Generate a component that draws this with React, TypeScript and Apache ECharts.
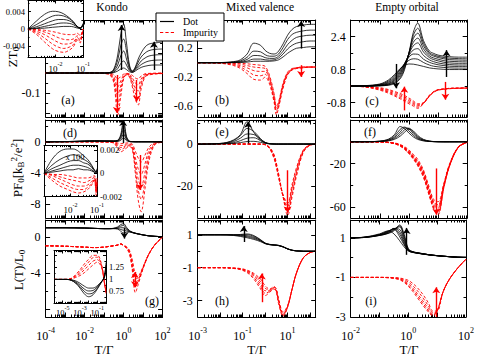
import React, { useEffect, useRef } from "react";
import * as echarts from "echarts";

const FONT = "'Liberation Serif', 'DejaVu Serif', serif";

// ---------- T/Γ sample points ----------
const kondoT = [1e-4, 1e-3, 0.01, 0.0316, 0.1, 0.2, 0.316, 0.5, 0.708, 1, 1.41, 2, 2.82, 3.98, 5.62, 7.94, 12.6, 20, 39.8, 100];
const mixedT = [0.001, 0.00316, 0.01, 0.02, 0.0398, 0.0794, 0.158, 0.316, 0.631, 1, 1.585, 2.512, 3.162, 3.981, 6.31, 10, 15.85, 25.12, 50.12, 100, 177.8];
const emptyT = [0.01, 0.0316, 0.1, 0.2, 0.316, 0.501, 0.708, 1, 1.413, 1.995, 3.162, 5.012, 7.079, 10, 15.85, 25.12, 50.12, 100];
const insetLowT = [0.001, 0.002, 0.004, 0.0079, 0.0126, 0.02, 0.0316, 0.0447, 0.0631, 0.0794, 0.0933, 0.1];
const insetGT = [1e-6, 1e-5, 3.16e-5, 1e-4, 3.16e-4, 1e-3, 3.16e-3, 0.01, 0.0316, 0.1, 0.316, 0.631, 1];

// ---------- tick labels ----------
const kondoTicks = [1e-4, 1e-2, 1, 100];
const mixedTicks = [1e-3, 1e-1, 10];
const emptyTicks = [1e-2, 1, 100];
const insetLowTicks = [1e-2, 1e-1];
const insetGTicks = [1e-5, 1e-3, 1e-1];

// ---------- (a) ZT, Kondo ----------
const aDot = [
  [0, 0, 0, 0, 0, 0.003, 0.02, 0.09, 0.19, 0.245, 0.15, 0.04, 0.01, 0.03, 0.07, 0.1, 0.13, 0.145, 0.15, 0.155],
  [0, 0, 0, 0, 0, 0.002, 0.015, 0.065, 0.135, 0.17, 0.11, 0.03, 0.008, 0.025, 0.055, 0.08, 0.1, 0.112, 0.118, 0.12],
  [0, 0, 0, 0, 0, 0.001, 0.01, 0.04, 0.085, 0.11, 0.07, 0.02, 0.006, 0.02, 0.04, 0.06, 0.075, 0.085, 0.09, 0.092],
  [0, 0, 0, 0, 0, 0, 0.005, 0.022, 0.047, 0.06, 0.04, 0.012, 0.004, 0.014, 0.03, 0.042, 0.053, 0.06, 0.064, 0.065],
  [0, 0, 0, 0, 0, 0, 0.002, 0.01, 0.02, 0.025, 0.017, 0.006, 0.003, 0.01, 0.02, 0.028, 0.034, 0.038, 0.04, 0.04],
];
const aImp = [
  [0, 0, 0, -0.001, -0.003, -0.01, -0.05, -0.21, -0.12, -0.03, -0.01, -0.02, -0.07, -0.13, -0.16, -0.08, -0.02, -0.01, -0.005, -0.003],
  [0, 0, 0, -0.001, -0.002, -0.008, -0.04, -0.16, -0.09, -0.025, -0.008, -0.015, -0.055, -0.1, -0.125, -0.06, -0.015, -0.008, -0.004, -0.002],
  [0, 0, 0, 0, -0.002, -0.006, -0.03, -0.11, -0.065, -0.02, -0.006, -0.01, -0.04, -0.075, -0.09, -0.045, -0.012, -0.006, -0.003, -0.002],
  [0, 0, 0, 0, -0.001, -0.004, -0.018, -0.07, -0.04, -0.012, -0.004, -0.007, -0.025, -0.05, -0.06, -0.03, -0.008, -0.004, -0.002, -0.001],
  [0, 0, 0, 0, 0, -0.002, -0.008, -0.03, -0.018, -0.006, -0.002, -0.004, -0.012, -0.025, -0.03, -0.015, -0.004, -0.002, -0.001, 0],
];
const aInsetDot = [
  [0, 0.0018, 0.0034, 0.0041, 0.004, 0.0035, 0.0026, 0.0017, 0.0005, 0.0003, 0.0008, 0.0013],
  [0, 0.001, 0.0021, 0.003, 0.0032, 0.003, 0.0024, 0.0016, 0.0005, 0.0003, 0.0007, 0.0011],
  [0, 0.0005, 0.0012, 0.0019, 0.0022, 0.0022, 0.0019, 0.0014, 0.0005, 0.0002, 0.0006, 0.001],
  [0, 0.0002, 0.0006, 0.001, 0.0013, 0.0014, 0.0013, 0.001, 0.0004, 0.0002, 0.0005, 0.0009],
  [0, 0.0001, 0.0002, 0.0004, 0.0005, 0.0006, 0.0006, 0.0005, 0.0002, 0.0001, 0.0004, 0.0008],
];
const aInsetImp = [
  [0, -0.0012, -0.003, -0.0046, -0.0052, -0.0054, -0.0049, -0.0041, -0.0026, -0.0032, -0.0012, 0],
  [0, -0.0008, -0.0021, -0.0035, -0.0042, -0.0045, -0.0042, -0.0036, -0.0023, -0.0029, -0.0011, 0],
  [0, -0.0005, -0.0013, -0.0024, -0.0031, -0.0035, -0.0034, -0.003, -0.002, -0.0026, -0.001, 0],
  [0, -0.0002, -0.0007, -0.0014, -0.002, -0.0024, -0.0025, -0.0023, -0.0016, -0.0022, -0.0008, 0],
  [0, -0.0001, -0.0003, -0.0006, -0.0009, -0.0012, -0.0013, -0.0013, -0.001, -0.0016, -0.0006, 0],
];

// ---------- (b) ZT, mixed valence ----------
const bDot = [
  [0, 0, 0.002, 0.006, 0.015, 0.04, 0.12, 0.27, 0.24, 0.17, 0.13, 0.12, 0.13, 0.16, 0.26, 0.38, 0.46, 0.5, 0.52, 0.53, 0.53],
  [0, 0, 0.001, 0.004, 0.01, 0.025, 0.075, 0.16, 0.15, 0.11, 0.09, 0.09, 0.1, 0.12, 0.21, 0.32, 0.39, 0.42, 0.44, 0.45, 0.45],
  [0, 0, 0.001, 0.002, 0.006, 0.015, 0.045, 0.1, 0.095, 0.07, 0.06, 0.06, 0.07, 0.09, 0.16, 0.25, 0.31, 0.35, 0.37, 0.38, 0.38],
  [0, 0, 0, 0.001, 0.003, 0.008, 0.022, 0.05, 0.05, 0.04, 0.035, 0.04, 0.05, 0.065, 0.12, 0.19, 0.24, 0.27, 0.29, 0.3, 0.3],
  [0, 0, 0, 0, 0.001, 0.003, 0.008, 0.02, 0.02, 0.02, 0.02, 0.025, 0.03, 0.04, 0.08, 0.13, 0.17, 0.2, 0.21, 0.22, 0.22],
];
const bImp = [
  [0, -0.002, -0.008, -0.02, -0.04, -0.08, -0.15, -0.23, -0.24, -0.2, -0.3, -0.55, -0.72, -0.62, -0.35, -0.17, -0.1, -0.08, -0.07, -0.06, -0.06],
  [0, -0.001, -0.006, -0.015, -0.03, -0.06, -0.11, -0.17, -0.18, -0.16, -0.27, -0.52, -0.69, -0.6, -0.33, -0.16, -0.1, -0.08, -0.07, -0.06, -0.06],
  [0, -0.001, -0.004, -0.01, -0.02, -0.04, -0.07, -0.11, -0.12, -0.12, -0.24, -0.49, -0.66, -0.58, -0.31, -0.15, -0.09, -0.07, -0.06, -0.06, -0.06],
  [0, 0, -0.002, -0.005, -0.01, -0.02, -0.04, -0.06, -0.07, -0.08, -0.21, -0.46, -0.63, -0.56, -0.3, -0.14, -0.09, -0.07, -0.06, -0.06, -0.06],
  [0, 0, -0.001, -0.002, -0.004, -0.008, -0.015, -0.025, -0.035, -0.05, -0.18, -0.43, -0.6, -0.54, -0.28, -0.13, -0.08, -0.07, -0.06, -0.06, -0.06],
];

// ---------- (c) ZT, empty orbital ----------
const cDot = [
  [0, 0, 0.01, 0.04, 0.12, 0.35, 0.8, 1.6, 2.6, 3.05, 2.2, 1.7, 1.58, 1.5, 1.45, 1.42, 1.4, 1.4],
  [0, 0, 0.015, 0.055, 0.16, 0.42, 0.88, 1.6, 2.45, 2.8, 2.08, 1.62, 1.51, 1.44, 1.38, 1.35, 1.33, 1.32],
  [0, 0, 0.02, 0.07, 0.2, 0.5, 0.95, 1.6, 2.3, 2.56, 1.95, 1.55, 1.45, 1.38, 1.32, 1.28, 1.26, 1.25],
  [0, 0.005, 0.03, 0.1, 0.25, 0.58, 1.0, 1.58, 2.12, 2.32, 1.8, 1.46, 1.36, 1.3, 1.23, 1.2, 1.18, 1.17],
  [0, 0.01, 0.04, 0.12, 0.3, 0.65, 1.05, 1.55, 1.95, 2.09, 1.65, 1.38, 1.28, 1.22, 1.15, 1.12, 1.1, 1.1],
  [0, 0.01, 0.05, 0.16, 0.36, 0.72, 1.08, 1.48, 1.75, 1.81, 1.48, 1.27, 1.18, 1.12, 1.07, 1.04, 1.02, 1.02],
  [0, 0.01, 0.06, 0.2, 0.42, 0.8, 1.1, 1.4, 1.55, 1.54, 1.3, 1.15, 1.08, 1.03, 0.99, 0.96, 0.95, 0.95],
  [0, 0.015, 0.08, 0.25, 0.48, 0.82, 1.05, 1.25, 1.32, 1.3, 1.14, 1.02, 0.96, 0.93, 0.9, 0.88, 0.87, 0.87],
  [0, 0.02, 0.1, 0.3, 0.55, 0.85, 1.0, 1.07, 1.06, 1.02, 0.95, 0.88, 0.85, 0.83, 0.81, 0.8, 0.8, 0.8],
];
const cImp = [
  [0, -0.05, -0.2, -0.35, -0.48, -0.62, -0.74, -0.86, -0.97, -1.08, -0.85, -0.5, -0.3, -0.2, -0.16, -0.13, -0.11, -0.1],
  [0, -0.04, -0.17, -0.3, -0.43, -0.56, -0.67, -0.79, -0.9, -1.02, -0.84, -0.49, -0.29, -0.19, -0.15, -0.12, -0.11, -0.1],
  [0, -0.03, -0.14, -0.26, -0.37, -0.49, -0.6, -0.72, -0.84, -0.96, -0.83, -0.48, -0.28, -0.19, -0.15, -0.12, -0.1, -0.1],
  [0, -0.03, -0.11, -0.21, -0.31, -0.42, -0.53, -0.65, -0.78, -0.91, -0.82, -0.46, -0.27, -0.18, -0.14, -0.11, -0.1, -0.09],
  [0, -0.02, -0.08, -0.17, -0.26, -0.36, -0.46, -0.58, -0.72, -0.86, -0.8, -0.45, -0.27, -0.18, -0.14, -0.11, -0.1, -0.09],
];

// ---------- (d) PF, Kondo ----------
const dDot = [
  [0, 0.02, 0.12, 0.16, 0.15, 0.14, 0.13, 0.2, 0.9, 2.8, 0.7, 0.08, 0.02, 0, 0, 0, 0, 0, 0, 0],
  [0, 0.02, 0.1, 0.13, 0.12, 0.11, 0.11, 0.17, 0.72, 2.2, 0.56, 0.07, 0.02, 0, 0, 0, 0, 0, 0, 0],
  [0, 0.01, 0.07, 0.1, 0.09, 0.08, 0.08, 0.13, 0.52, 1.6, 0.42, 0.05, 0.01, 0, 0, 0, 0, 0, 0, 0],
  [0, 0.01, 0.05, 0.06, 0.06, 0.05, 0.05, 0.09, 0.34, 1.0, 0.27, 0.04, 0.01, 0, 0, 0, 0, 0, 0, 0],
  [0, 0, 0.02, 0.03, 0.03, 0.03, 0.03, 0.05, 0.18, 0.5, 0.14, 0.02, 0, 0, 0, 0, 0, 0, 0, 0],
];
const dImp = [
  [0, 0, 0, 0, -0.02, -0.05, -0.2, -0.8, -1.3, -1.1, -0.8, -0.6, -1.0, -4.0, -7.5, -9.0, -6.0, -2.5, -0.4, -0.05],
  [0, 0, 0, 0, -0.02, -0.04, -0.15, -0.6, -1.0, -0.85, -0.6, -0.5, -0.9, -3.4, -6.2, -7.4, -5.0, -2.0, -0.3, -0.04],
  [0, 0, 0, 0, -0.01, -0.03, -0.1, -0.45, -0.75, -0.65, -0.45, -0.4, -0.7, -2.7, -4.8, -5.8, -3.9, -1.6, -0.25, -0.03],
  [0, 0, 0, 0, -0.01, -0.02, -0.07, -0.3, -0.5, -0.45, -0.3, -0.3, -0.5, -2.0, -3.5, -4.2, -2.8, -1.1, -0.2, -0.02],
  [0, 0, 0, 0, 0, -0.01, -0.04, -0.15, -0.25, -0.22, -0.15, -0.15, -0.3, -1.2, -2.1, -2.6, -1.7, -0.7, -0.1, -0.01],
];
const dInsetDot = [
  [0, 0.0012, 0.0019, 0.0021, 0.0021, 0.0019, 0.0015, 0.0012, 0.0007, 0.0003, 0.0001, 0.0004],
  [0, 0.0007, 0.0012, 0.0015, 0.0016, 0.0015, 0.0012, 0.001, 0.0006, 0.0003, 0.0001, 0.0003],
  [0, 0.0004, 0.0007, 0.001, 0.0011, 0.0011, 0.0009, 0.0008, 0.0005, 0.0002, 0.0001, 0.0003],
  [0, 0.0002, 0.0004, 0.0006, 0.0007, 0.0007, 0.0006, 0.0005, 0.0003, 0.0001, 0, 0.0002],
  [0, 0.0001, 0.0002, 0.0003, 0.0003, 0.0004, 0.0003, 0.0003, 0.0002, 0.0001, 0, 0.0001],
];
const dInsetImp = [
  [0, -0.0006, -0.0011, -0.0014, -0.0016, -0.0017, -0.0016, -0.0014, -0.001, -0.0006, -0.0019, -0.0008],
  [0, -0.0004, -0.0008, -0.0011, -0.0013, -0.0014, -0.0014, -0.0012, -0.0009, -0.0005, -0.0017, -0.0007],
  [0, -0.0002, -0.0005, -0.0008, -0.001, -0.0011, -0.0011, -0.001, -0.0007, -0.0004, -0.0015, -0.0006],
  [0, -0.0001, -0.0003, -0.0005, -0.0006, -0.0007, -0.0008, -0.0007, -0.0005, -0.0003, -0.0013, -0.0005],
  [0, -0.0001, -0.0001, -0.0002, -0.0003, -0.0004, -0.0004, -0.0004, -0.0003, -0.0002, -0.001, -0.0004],
];

// ---------- (e) PF, mixed valence ----------
const eDot = [
  [0, 0.05, 0.3, 0.8, 2, 4.5, 10.6, 5.5, 1.8, 0.6, 0.15, 0.03, 0, 0, 0, 0, 0, 0, 0, 0, 0],
  [0, 0.05, 0.3, 0.7, 1.7, 4, 7.4, 6, 2.5, 0.8, 0.2, 0.04, 0, 0, 0, 0, 0, 0, 0, 0, 0],
  [0, 0.03, 0.2, 0.5, 1.2, 2.8, 4.8, 4.5, 2.2, 0.8, 0.2, 0.04, 0, 0, 0, 0, 0, 0, 0, 0, 0],
  [0, 0.02, 0.1, 0.3, 0.7, 1.6, 2.8, 3, 1.6, 0.6, 0.15, 0.03, 0, 0, 0, 0, 0, 0, 0, 0, 0],
  [0, 0.01, 0.05, 0.12, 0.3, 0.7, 1.2, 1.3, 0.8, 0.3, 0.08, 0.02, 0, 0, 0, 0, 0, 0, 0, 0, 0],
];
const eImp = [
  [0, 0, 0, 0, 0, 0, 0, 0, -0.05, -0.2, -1.5, -5, -9, -14, -25, -33.8, -25, -15, -4, -0.5, -0.1],
  [0, 0, 0, 0, 0, 0, 0, 0, -0.05, -0.2, -1.6, -5.5, -9.5, -14.5, -25, -32.5, -23.5, -14, -3.6, -0.5, -0.1],
  [0, 0, 0, 0, 0, 0, 0, 0, -0.05, -0.25, -1.8, -6, -10, -15, -25, -31, -22, -13, -3.3, -0.4, -0.1],
  [0, 0, 0, 0, 0, 0, 0, 0, -0.05, -0.3, -2, -6.5, -10.5, -15.5, -24.5, -29.5, -20.5, -12, -3, -0.4, -0.1],
  [0, 0, 0, 0, 0, 0, 0, 0, -0.06, -0.35, -2.2, -7, -11, -16, -24, -28, -19, -11, -2.8, -0.4, -0.1],
];

// ---------- (f) PF, empty orbital ----------
const fDot = [
  [0, 0.05, 0.6, 2.5, 6.5, 14, 12, 8, 4.5, 2.2, 0.8, 0.25, 0.1, 0.03, 0, 0, 0, 0],
  [0, 0.04, 0.5, 2, 5, 11.5, 13.5, 10, 6, 3, 1.1, 0.35, 0.13, 0.04, 0, 0, 0, 0],
  [0, 0.03, 0.4, 1.6, 4, 9, 12.8, 12, 7.5, 3.8, 1.4, 0.45, 0.16, 0.05, 0, 0, 0, 0],
  [0, 0.02, 0.3, 1.2, 3, 7, 11, 12.5, 9, 4.8, 1.8, 0.55, 0.2, 0.06, 0, 0, 0, 0],
  [0, 0.02, 0.2, 0.9, 2.2, 5.2, 8.8, 11.5, 10, 5.8, 2.2, 0.7, 0.25, 0.08, 0, 0, 0, 0],
];
const fImp = [
  [0, 0, -0.2, -0.8, -1.8, -4, -7, -11, -16, -22, -33, -50, -62, -67, -42, -22, -5, -0.5],
  [0, 0, -0.18, -0.75, -1.7, -3.8, -6.7, -10.6, -15.5, -21.2, -32, -49, -61, -65.5, -41.5, -21.8, -5, -0.5],
  [0, 0, -0.15, -0.7, -1.6, -3.6, -6.4, -10.2, -15, -20.5, -31, -48, -60, -64, -41, -21.5, -5, -0.5],
  [0, 0, -0.15, -0.65, -1.5, -3.4, -6.1, -9.8, -14.5, -19.8, -30, -47, -58.5, -62.5, -40.5, -21.2, -4.9, -0.5],
  [0, 0, -0.15, -0.6, -1.4, -3.2, -5.8, -9.4, -14, -19, -29, -46, -57, -61, -40, -21, -4.8, -0.5],
  [0, 0, -0.12, -0.55, -1.3, -3.0, -5.5, -9.0, -13.4, -18.2, -28.2, -45, -56, -59.5, -39.5, -20.8, -4.7, -0.5],
  [0, 0, -0.1, -0.5, -1.2, -2.9, -5.2, -8.5, -12.8, -17.5, -27.5, -44, -55, -58, -39, -20.5, -4.6, -0.5],
  [0, 0, -0.1, -0.4, -1, -2.5, -4.5, -7.5, -11.5, -16, -26, -42, -53, -55, -38, -20, -4.5, -0.5],
];

// ---------- (g) L/L0, Kondo ----------
const gDot = [
  [1, 1, 0.97, 0.93, 0.9, 0.9, 0.95, 1.1, 1.35, 1.45, 1.05, 0.7, 0.5, 0.4, 0.32, 0.25, 0.17, 0.1, 0.05, 0.01],
  [1, 1, 0.97, 0.93, 0.9, 0.9, 0.93, 1.02, 1.18, 1.25, 0.92, 0.65, 0.5, 0.4, 0.32, 0.25, 0.17, 0.1, 0.05, 0.01],
  [1, 1, 0.97, 0.93, 0.9, 0.9, 0.92, 0.95, 1.0, 1.0, 0.8, 0.6, 0.48, 0.39, 0.31, 0.25, 0.17, 0.1, 0.05, 0.01],
  [1, 1, 0.97, 0.93, 0.9, 0.9, 0.91, 0.9, 0.8, 0.72, 0.65, 0.57, 0.47, 0.38, 0.31, 0.24, 0.16, 0.1, 0.05, 0.01],
  [1, 1, 0.97, 0.93, 0.9, 0.9, 0.9, 0.85, 0.62, 0.42, 0.5, 0.52, 0.45, 0.37, 0.3, 0.24, 0.16, 0.1, 0.05, 0.01],
];
const gImp = [
  [-1, -1.05, -1.15, -1.2, -1.15, -1.05, -1.0, -0.92, -0.8, -0.95, -1.3, -1.9, -3.8, -6.2, -5.3, -4.2, -2.9, -1.9, -0.9, -0.02],
  [-1, -1.05, -1.15, -1.2, -1.15, -1.05, -1.0, -0.92, -0.8, -0.95, -1.25, -1.8, -3.5, -5.6, -5.0, -4.1, -2.9, -1.9, -0.9, -0.02],
  [-1, -1.05, -1.15, -1.2, -1.15, -1.05, -1.0, -0.92, -0.8, -0.95, -1.2, -1.7, -3.2, -5.1, -4.8, -4.0, -2.9, -1.9, -0.9, -0.02],
  [-1, -1.05, -1.15, -1.2, -1.15, -1.05, -1.0, -0.92, -0.8, -0.95, -1.15, -1.6, -2.9, -4.6, -4.6, -3.9, -2.85, -1.9, -0.9, -0.02],
  [-1, -1.05, -1.15, -1.2, -1.15, -1.05, -1.0, -0.92, -0.8, -0.95, -1.1, -1.5, -2.6, -4.1, -4.3, -3.8, -2.8, -1.9, -0.9, -0.02],
];
const gInsetDot = [
  [1, 1, 1, 0.98, 0.92, 0.82, 0.7, 0.64, 0.68, 0.8, 0.95, 1.05, 1.35],
  [1, 1, 1, 0.98, 0.93, 0.85, 0.75, 0.7, 0.72, 0.82, 0.95, 1.05, 1.3],
  [1, 1, 1, 0.99, 0.95, 0.88, 0.8, 0.76, 0.77, 0.85, 0.96, 1.04, 1.25],
  [1, 1, 1, 0.99, 0.97, 0.92, 0.86, 0.82, 0.82, 0.87, 0.96, 1.03, 1.2],
];
const gInsetImp = [
  [1, 1, 1, 1.02, 1.1, 1.2, 1.32, 1.42, 1.5, 1.5, 1.3, 0.95, 0.7],
  [1, 1, 1, 1.02, 1.08, 1.16, 1.26, 1.36, 1.45, 1.46, 1.28, 0.95, 0.72],
  [1, 1, 1, 1.01, 1.06, 1.12, 1.2, 1.29, 1.38, 1.41, 1.26, 0.95, 0.74],
  [1, 1, 1, 1.01, 1.04, 1.08, 1.14, 1.22, 1.3, 1.36, 1.24, 0.95, 0.76],
];

// ---------- (h) L/L0, mixed valence ----------
const hDot = [
  [1, 1, 1, 1, 1, 1.02, 1.05, 0.95, 0.7, 0.5, 0.42, 0.39, 0.38, 0.36, 0.28, 0.15, 0.06, 0.02, 0, 0, 0],
  [1, 1, 1, 1, 1, 1, 1, 0.9, 0.68, 0.49, 0.41, 0.38, 0.37, 0.35, 0.27, 0.14, 0.06, 0.02, 0, 0, 0],
  [1, 1, 1, 1, 0.99, 0.97, 0.94, 0.84, 0.65, 0.48, 0.41, 0.38, 0.37, 0.35, 0.27, 0.14, 0.06, 0.02, 0, 0, 0],
  [1, 1, 1, 1, 0.98, 0.94, 0.88, 0.78, 0.62, 0.47, 0.4, 0.37, 0.36, 0.34, 0.26, 0.14, 0.06, 0.02, 0, 0, 0],
  [1, 1, 1, 0.99, 0.96, 0.9, 0.82, 0.72, 0.58, 0.46, 0.4, 0.37, 0.36, 0.34, 0.26, 0.14, 0.06, 0.02, 0, 0, 0],
];
const hImp = [
  [-1, -1, -1, -1.02, -1.05, -1.12, -1.3, -1.7, -2.3, -2.7, -2.5, -2.3, -2.5, -3.2, -3.95, -3.4, -2.3, -1.3, -0.4, -0.08, 0],
  [-1, -1, -1, -1.01, -1.04, -1.1, -1.26, -1.6, -2.15, -2.55, -2.45, -2.25, -2.45, -3.1, -3.9, -3.4, -2.3, -1.3, -0.4, -0.08, 0],
  [-1, -1, -1, -1.01, -1.03, -1.08, -1.22, -1.5, -2, -2.4, -2.4, -2.2, -2.4, -3.05, -3.85, -3.35, -2.3, -1.3, -0.4, -0.08, 0],
  [-1, -1, -1, -1, -1.03, -1.06, -1.18, -1.42, -1.85, -2.25, -2.35, -2.18, -2.35, -2.95, -3.8, -3.35, -2.3, -1.3, -0.4, -0.08, 0],
  [-1, -1, -1, -1, -1.02, -1.05, -1.15, -1.35, -1.7, -2.1, -2.3, -2.15, -2.3, -2.9, -3.7, -3.3, -2.3, -1.3, -0.4, -0.08, 0],
];

// ---------- (i) L/L0, empty orbital ----------
const iDot = [
  [1, 1.02, 1.12, 1.22, 1.35, 1.65, 1.2, 0.45, 0.3, 0.25, 0.2, 0.15, 0.12, 0.1, 0.07, 0.05, 0.02, 0.01],
  [1, 1.02, 1.12, 1.23, 1.4, 1.6, 1.1, 0.42, 0.3, 0.25, 0.2, 0.15, 0.12, 0.1, 0.07, 0.05, 0.02, 0.01],
  [1, 1.02, 1.13, 1.25, 1.45, 1.55, 1.0, 0.4, 0.29, 0.24, 0.19, 0.15, 0.12, 0.1, 0.07, 0.05, 0.02, 0.01],
  [1, 1.03, 1.14, 1.28, 1.47, 1.42, 0.9, 0.38, 0.28, 0.24, 0.19, 0.15, 0.12, 0.1, 0.07, 0.05, 0.02, 0.01],
  [1, 1.03, 1.15, 1.3, 1.48, 1.3, 0.8, 0.37, 0.28, 0.24, 0.19, 0.15, 0.12, 0.1, 0.07, 0.05, 0.02, 0.01],
  [1, 1.03, 1.16, 1.33, 1.46, 1.18, 0.72, 0.36, 0.27, 0.23, 0.18, 0.14, 0.12, 0.1, 0.07, 0.05, 0.02, 0.01],
  [1, 1.03, 1.17, 1.35, 1.42, 1.05, 0.65, 0.35, 0.27, 0.23, 0.18, 0.14, 0.12, 0.1, 0.07, 0.05, 0.02, 0.01],
  [1, 1.04, 1.2, 1.35, 1.2, 0.85, 0.55, 0.33, 0.26, 0.22, 0.18, 0.14, 0.11, 0.09, 0.07, 0.05, 0.02, 0.01],
];
const iImp = [
  [-1, -1, -1, -1.02, -1.05, -1.12, -1.25, -1.45, -1.7, -2.0, -2.4, -2.75, -2.95, -2.7, -1.75, -1.15, -0.55, -0.08],
  [-1, -1, -1, -1.01, -1.04, -1.1, -1.21, -1.39, -1.62, -1.9, -2.3, -2.68, -2.9, -2.7, -1.75, -1.15, -0.55, -0.08],
  [-1, -1, -1, -1.01, -1.03, -1.08, -1.17, -1.32, -1.53, -1.8, -2.18, -2.58, -2.85, -2.7, -1.75, -1.15, -0.55, -0.08],
  [-1, -1, -1, -1, -1.02, -1.05, -1.12, -1.23, -1.42, -1.65, -2.02, -2.45, -2.78, -2.7, -1.75, -1.15, -0.55, -0.08],
  [-1, -1, -1, -1, -1.01, -1.03, -1.08, -1.15, -1.3, -1.5, -1.85, -2.3, -2.7, -2.7, -1.75, -1.15, -0.55, -0.08],
];

// ---------- arrows: [T, from, to, colour] ----------
type Arrow = [number, number, number, string];
const aArrows: Arrow[] = [[0.79, 0.015, 0.24, "k"], [36, 0.015, 0.156, "k"], [0.45, -0.01, -0.2, "r"], [4.7, -0.035, -0.143, "r"]];
const aInsetArrows: Arrow[] = [[0.0043, 0, 0.0044, "k"], [0.029, -0.0006, -0.0052, "r"]];
const bArrows: Arrow[] = [[40, 0.196, 0.577, "k"], [40, -0.034, -0.196, "r"]];
const cArrows: Arrow[] = [[19.5, 0.44, 1.74, "k"], [0.36, 1.07, -0.11, "k"], [0.69, -1.18, -0.03, "r"], [17.8, 0.2, -0.66, "r"]];
const dArrows: Arrow[] = [[0.95, -0.17, 2.8, "k"], [6.9, -1.7, -6.2, "r"]];
const dInsetArrows: Arrow[] = [[0.0019, 0.0001, 0.002, "k"], [0.0195, -0.00015, -0.0017, "r"]];
const eArrows: Arrow[] = [[0.174, 0.3, 10.6, "k"], [10, -12.4, -32.4, "r"]];
const fArrows: Arrow[] = [[8.7, -24.5, -67, "r"]];
const gArrows: Arrow[] = [[1.1, 1.0, -0.2, "k"], [3.8, -3.9, -5.6, "r2"]];
const gInsetArrows: Arrow[] = [[0.0022, 0.65, 0.99, "k"], [0.0049, 1.36, 1.09, "r"]];
const hArrows: Arrow[] = [[0.112, 0.56, 1.53, "k"], [0.71, -3.1, -1.35, "r"]];
const iArrows: Arrow[] = [[0.87, 0.14, 1.5, "k"], [9.3, -3.0, -1.5, "r"]];

// ---------- helpers (tick positions) ----------
function decades(lo: number, hi: number) {
  const out: number[] = [];
  for (let e = Math.ceil(Math.log10(lo) - 1e-9); e <= Math.floor(Math.log10(hi) + 1e-9); e++) out.push(Math.pow(10, e));
  return out;
}
function minors(lo: number, hi: number) {
  const out: number[] = [];
  for (let e = Math.floor(Math.log10(lo)) - 1; e <= Math.ceil(Math.log10(hi)); e++)
    for (let m = 2; m <= 9; m++) {
      const v = m * Math.pow(10, e);
      if (v > lo * 1.0001 && v < hi * 0.9999) out.push(v);
    }
  return out;
}

interface Spec {
  box: number[];
  inset?: boolean;
  T: number[];
  xr: number[];
  xLabels?: number[];
  xFont?: number;
  xMargin?: number;
  yr: number[];
  yMajor: number[];
  yMinor: number[];
  yLabels: number[];
  ySide?: string;
  yFont?: number;
  dot: number[][];
  imp: number[][];
  arrows: Arrow[];
}

function buildOption() {
  const specs: Spec[] = [
    { box: [45.6, 20, 117, 97], T: kondoT, xr: [1e-4, 100], yr: [-0.22, 0.265], yMajor: [-0.2, -0.1, 0, 0.1, 0.2], yMinor: [-0.15, -0.05, 0.05, 0.15, 0.25], yLabels: [-0.1], dot: aDot, imp: aImp, arrows: aArrows },
    { box: [197.7, 20, 118, 97], T: mixedT, xr: [1e-3, 177.8], yr: [-0.75, 0.59], yMajor: [-0.6, -0.2, 0.2], yMinor: [-0.4, 0, 0.4], yLabels: [-0.6, -0.2, 0.2], dot: bDot, imp: bImp, arrows: bArrows },
    { box: [350.7, 20, 116.5, 97], T: emptyT, xr: [1e-2, 100], yr: [-1.5, 3.2], yMajor: [-0.8, 0.8, 2.4], yMinor: [0, 1.6], yLabels: [-0.8, 0.8, 2.4], dot: cDot, imp: cImp, arrows: cArrows },
    { box: [45.6, 120, 117, 98], T: kondoT, xr: [1e-4, 100], yr: [-9.8, 2.8], yMajor: [-8, -4, 0], yMinor: [-6, -2, 2], yLabels: [-8, -4, 0], dot: dDot, imp: dImp, arrows: dArrows },
    { box: [197.7, 120, 118, 98], T: mixedT, xr: [1e-3, 177.8], yr: [-35, 11.4], yMajor: [-20, 0], yMinor: [-30, -10, 10], yLabels: [-20, 0], dot: eDot, imp: eImp, arrows: eArrows },
    { box: [350.7, 120, 116.5, 98], T: emptyT, xr: [1e-2, 100], yr: [-70, 20], yMajor: [-60, -20], yMinor: [-40, 0], yLabels: [-60, -20], dot: fDot, imp: fImp, arrows: fArrows },
    { box: [45.6, 220, 117, 97], T: kondoT, xr: [1e-4, 100], xLabels: kondoTicks, yr: [-8.9, 1.86], yMajor: [-8, -4, 0], yMinor: [-6, -2], yLabels: [-4, 0], dot: gDot, imp: gImp, arrows: gArrows },
    { box: [197.7, 220, 118, 97], T: mixedT, xr: [1e-3, 177.8], xLabels: mixedTicks, yr: [-4, 1.9], yMajor: [-3, -1, 1], yMinor: [-2, 0], yLabels: [-3, -1, 1], dot: hDot, imp: hImp, arrows: hArrows },
    { box: [350.7, 220, 116.5, 97], T: emptyT, xr: [1e-2, 100], xLabels: emptyTicks, yr: [-3, 1.9], yMajor: [-3, -1, 1], yMinor: [-2, 0], yLabels: [-3, -1, 1], dot: iDot, imp: iImp, arrows: iArrows },
    { box: [27, 0.5, 56, 57], inset: true, T: insetLowT, xr: [1e-3, 0.1], xLabels: insetLowTicks, xFont: 9, xMargin: 3, yr: [-0.0066, 0.0066], yMajor: [-0.004, 0, 0.004], yMinor: [-0.006, -0.002, 0.002, 0.006], yLabels: [-0.004, 0, 0.004], ySide: "left", yFont: 8.5, dot: aInsetDot, imp: aInsetImp, arrows: aInsetArrows },
    { box: [44, 145.5, 53, 51], inset: true, T: insetLowT, xr: [1e-3, 0.1], xLabels: insetLowTicks, xFont: 9, xMargin: 5, yr: [-0.002, 0.0024], yMajor: [-0.002, 0, 0.002], yMinor: [-0.001, 0.001], yLabels: [-0.002, 0, 0.002], ySide: "right", yFont: 8.5, dot: dInsetDot, imp: dInsetImp, arrows: dInsetArrows },
    { box: [54, 250.5, 52, 53], inset: true, T: insetGT, xr: [1e-6, 1], xLabels: insetGTicks, xFont: 8.5, xMargin: 1, yr: [0.5, 1.6], yMajor: [0.75, 1, 1.25, 1.5], yMinor: [0.625, 0.875, 1.125, 1.375], yLabels: [0.75, 1, 1.25], ySide: "right", yFont: 8.5, dot: gInsetDot, imp: gInsetImp, arrows: gInsetArrows },
  ];

  const grid: any[] = [];
  const xAxis: any[] = [];
  const yAxis: any[] = [];
  const series: any[] = [];
  const ls = { color: "#000", width: 1 };

  specs.forEach((s, g) => {
    const inset = !!s.inset;
    grid.push({
      left: s.box[0], top: s.box[1], width: s.box[2], height: s.box[3],
      show: inset, backgroundColor: "#fff", borderWidth: 0, z: inset ? 10 : 0,
    });
    const zA = inset ? 11 : 1;
    const tl = inset ? 3 : 4.5;
    const tm = inset ? 1.6 : 2.5;
    const xMaj = decades(s.xr[0], s.xr[1]);
    const xMin = minors(s.xr[0], s.xr[1]);
    const xf = s.xFont || 12;
    const sf = Math.round(xf * 0.68);
    const xCommon = { type: "log", logBase: 10, gridIndex: g, min: s.xr[0], max: s.xr[1], z: zA, splitLine: { show: false }, silent: true };
    const xLab = s.xLabels
      ? {
          show: true,
          customValues: s.xLabels,
          margin: s.xMargin ?? 9,
          formatter: (v: number) => `{b|10}{s|${Math.round(Math.log10(v))}}`,
          rich: {
            b: { fontFamily: FONT, fontSize: xf, color: "#000", lineHeight: xf + 4, verticalAlign: "bottom" },
            s: { fontFamily: FONT, fontSize: sf, color: "#000", lineHeight: xf + 4, verticalAlign: "top" },
          },
        }
      : { show: false };
    xAxis.push({ ...xCommon, position: "bottom", axisLine: { show: true, onZero: false, lineStyle: ls }, axisTick: { show: true, inside: true, length: tl, customValues: xMaj, lineStyle: ls }, axisLabel: xLab });
    xAxis.push({ ...xCommon, position: "top", axisLine: { show: true, onZero: false, lineStyle: ls }, axisTick: { show: true, inside: true, length: tl, customValues: xMaj, lineStyle: ls }, axisLabel: { show: false } });
    xAxis.push({ ...xCommon, position: "bottom", axisLine: { show: false, onZero: false }, axisTick: { show: true, inside: true, length: tm, customValues: xMin, lineStyle: ls }, axisLabel: { show: false } });
    xAxis.push({ ...xCommon, position: "top", axisLine: { show: false, onZero: false }, axisTick: { show: true, inside: true, length: tm, customValues: xMin, lineStyle: ls }, axisLabel: { show: false } });

    const side = s.ySide || "left";
    const other = side === "left" ? "right" : "left";
    const yCommon = { type: "value", gridIndex: g, min: s.yr[0], max: s.yr[1], z: zA, splitLine: { show: false }, silent: true };
    const yf = s.yFont || 12;
    yAxis.push({ ...yCommon, position: side, axisLine: { show: true, onZero: false, lineStyle: ls }, axisTick: { show: true, inside: true, length: tl, customValues: s.yMajor, lineStyle: ls },
      axisLabel: { show: true, customValues: s.yLabels, margin: inset ? 3 : 5, fontFamily: FONT, fontSize: yf, color: "#000", formatter: (v: number) => String(v) } });
    yAxis.push({ ...yCommon, position: other, axisLine: { show: true, onZero: false, lineStyle: ls }, axisTick: { show: true, inside: true, length: tl, customValues: s.yMajor, lineStyle: ls }, axisLabel: { show: false } });
    yAxis.push({ ...yCommon, position: side, axisLine: { show: false, onZero: false }, axisTick: { show: true, inside: true, length: tm, customValues: s.yMinor, lineStyle: ls }, axisLabel: { show: false } });
    yAxis.push({ ...yCommon, position: other, axisLine: { show: false, onZero: false }, axisTick: { show: true, inside: true, length: tm, customValues: s.yMinor, lineStyle: ls }, axisLabel: { show: false } });

    const xi = 4 * g;
    const yi = 4 * g;
    const zS = inset ? 12 : 2;
    s.imp.forEach((ys) => {
      series.push({
        type: "line", name: "Impurity", xAxisIndex: xi, yAxisIndex: yi, z: zS, silent: true,
        data: s.T.map((t, i) => [t, ys[i]]), symbol: "none", showSymbol: false, smooth: 0.35,
        lineStyle: { color: "#ff0000", width: 0.9, type: [3, 2] }, itemStyle: { color: "#ff0000" },
      });
    });
    s.dot.forEach((ys) => {
      series.push({
        type: "line", name: "Dot", xAxisIndex: xi, yAxisIndex: yi, z: zS, silent: true,
        data: s.T.map((t, i) => [t, ys[i]]), symbol: "none", showSymbol: false, smooth: 0.35,
        lineStyle: { color: "#000", width: 0.8, type: "solid" }, itemStyle: { color: "#000" },
      });
    });
    series.push({
      type: "line", name: "arrows", xAxisIndex: xi, yAxisIndex: yi, z: zS + 1, silent: true, data: [],
      markLine: {
        silent: true, animation: false, label: { show: false }, emphasis: { disabled: true },
        data: s.arrows.map((a) => {
          const col = a[3] === "k" ? "#000" : "#ff0000";
          const both = a[3] === "r2";
          return [
            { coord: [a[0], a[1]], symbol: both ? "arrow" : "none", symbolSize: inset ? 5 : 6, lineStyle: { color: col, width: inset ? 1.1 : 1.4, type: "solid" } },
            { coord: [a[0], a[2]], symbol: "arrow", symbolSize: inset ? 5 : 6 },
          ];
        }),
      },
    });
  });

  const txt = (x: number, y: number, text: string, size = 12, rot = 0, rich?: any) => ({
    type: "text", x, y, rotation: rot, z: 60,
    style: { text, fill: "#000", font: `${size}px ${FONT}`, fontSize: size, fontFamily: FONT, align: "center", verticalAlign: "middle", textAlign: "center", textVerticalAlign: "middle", rich },
  });
  const rich13 = {
    m: { fontFamily: FONT, fontSize: 13, lineHeight: 16, verticalAlign: "middle", fill: "#000" },
    d: { fontFamily: FONT, fontSize: 9, lineHeight: 16, verticalAlign: "bottom", fill: "#000" },
    u: { fontFamily: FONT, fontSize: 9, lineHeight: 16, verticalAlign: "top", fill: "#000" },
  };
  const graphic = [
    txt(112, 7, "Kondo", 11.5),
    txt(260, 7, "Mixed valence", 11.5),
    txt(407, 7, "Empty orbital", 11.5),
    txt(68, 100, "(a)"), txt(222, 100, "(b)"), txt(372, 101, "(c)"),
    txt(70, 133, "(d)"), txt(222, 132, "(e)"), txt(370, 132, "(f)"),
    txt(152, 301, "(g)"), txt(222, 301, "(h)"), txt(371, 301, "(i)"),
    txt(75, 157, "x 100", 8.5),
    txt(104, 349, "T/Γ", 13), txt(256.7, 349, "T/Γ", 13), txt(409, 349, "T/Γ", 13),
    txt(12, 57, "{m|ZT}{d|0}", 13, Math.PI / 2, rich13),
    txt(17, 168, "{m|PF}{d|0}{m|[k}{d|B}{u|2}{m|/e}{u|2}{m|]}", 13, Math.PI / 2, rich13),
    txt(18, 270, "{m|L(T)/L}{d|0}", 13, Math.PI / 2, rich13),
  ];

  return {
    animation: false,
    backgroundColor: "#fff",
    textStyle: { fontFamily: FONT },
    legend: {
      data: [
        { name: "Dot", icon: "path://M0,0h14v1h-14z" },
        { name: "Impurity", icon: "path://M0,0h3v1h-3z M5,0h3v1h-3z M10,0h3v1h-3z" },
      ],
      left: 156, top: 13, orient: "vertical", z: 30,
      symbolKeepAspect: false,
      backgroundColor: "#fff", borderColor: "#000", borderWidth: 1, borderRadius: 0,
      padding: [3, 6, 3, 4], itemGap: 0, itemWidth: 14, itemHeight: 1.2,
      textStyle: { fontFamily: FONT, fontSize: 10, lineHeight: 11, color: "#000", padding: [0, 0, 0, 4] },
      selectedMode: false,
    },
    grid, xAxis, yAxis, series, graphic,
  };
}

export default function App() {
  const ref = useRef<HTMLDivElement>(null);
  useEffect(() => {
    if (!ref.current) return;
    const chart = echarts.init(ref.current, undefined, { renderer: "svg", width: 477, height: 357 });
    chart.setOption(buildOption() as any);
    return () => chart.dispose();
  }, []);
  return <div ref={ref} style={{ position: "absolute", left: 0, top: 0, width: 477, height: 357, background: "#fff" }} />;
}
